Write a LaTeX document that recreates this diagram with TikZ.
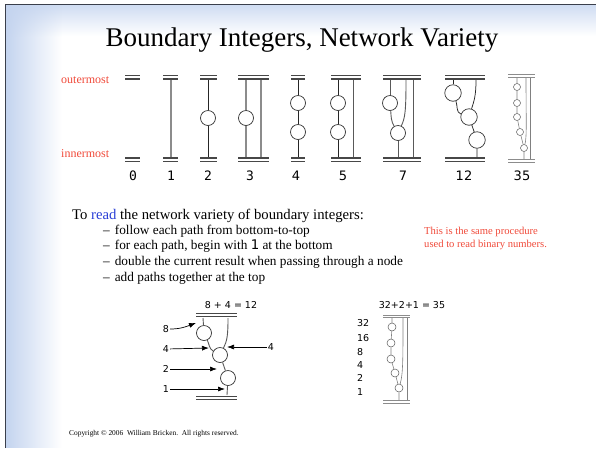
\documentclass[tikz,border=0pt]{standalone}
\usepackage{fontspec}
\setmainfont{Liberation Serif}
\newfontfamily\sansf{DejaVu Sans}
\newfontfamily\monof{DejaVu Sans Mono}
\usetikzlibrary{arrows.meta,fadings}

\definecolor{notered}{HTML}{F04A3A}
\definecolor{readblue}{HTML}{2A3FD6}
\definecolor{edgeblue}{HTML}{C4D4EF}
\definecolor{framegray}{HTML}{3A3F4B}

\tikzfading[name=fadeout right, left color=transparent!0, right color=transparent!100]

\tikzset{
  bar/.style={line width=1.8pt, draw=black!72},
  thinbar/.style={line width=1pt, draw=black!45},
  kpath/.style={line width=0.75pt, draw=black!85},
  gpath/.style={line width=1.3pt, draw=black!45},
  dpath/.style={line width=0.9pt, draw=black!65},
  lpath/.style={line width=0.6pt, draw=black!50},
  bub/.style={circle, draw=black!80, fill=white, inner sep=0pt, minimum size=15pt, line width=0.7pt},
  bigbub/.style={bub, minimum size=16.5pt},
  tinybub/.style={bub, minimum size=7pt, line width=0.5pt, draw=black!65},
  numlbl/.style={font=\monof\fontsize{13}{13}\selectfont},
  sumlbl/.style={font=\sansf\fontsize{13}{13}\selectfont},
  pathlbl/.style={font=\sansf\fontsize{9.5}{10}\selectfont, inner sep=1pt},
  redlbl/.style={font=\fontsize{12}{12}\selectfont, text=notered, anchor=west, inner sep=0pt},
  ptr/.style={->, line width=0.7pt, >={Latex[length=7pt,width=5pt]}}
}

\begin{document}
\begin{tikzpicture}[x=1pt,y=-1pt]
  \useasboundingbox (0,0) rectangle (596,448);
  % slide background
  \shade[top color=edgeblue!80, bottom color=white] (6,5) rectangle (596,36);
  \fill[edgeblue, path fading=fadeout right] (6,5) rectangle (62,448);
  \draw[framegray, line width=1.5pt] (5.5,448) -- (5.5,4.5) -- (596,4.5);

  \node (title) at (302,40) {\fontsize{27}{28}\selectfont Boundary Integers, Network Variety};

  \node[redlbl] (outer) at (61,80) {outermost};
  \node[redlbl] (inner) at (61,154) {innermost};

  % double bars of the top row
  \foreach \xa/\xb in {125/140,163/178,200/217,238/269,291/305,331/361,383/421,445/485}{
    \draw[bar] (\xa,75.5) -- (\xb,75.5) (\xa,79) -- (\xb,79);
    \draw[bar] (\xa,158) -- (\xb,158) (\xa,161.5) -- (\xb,161.5);
  }
  \draw[thinbar] (508,74.5) -- (535,74.5) (508,77) -- (535,77);
  \draw[thinbar] (508,159.5) -- (535,159.5) (508,162) -- (535,162);

  % 1
  \coordinate (t1) at (171,80); \coordinate (b1) at (171,157);
  \draw[gpath] (t1) -- (b1);
  % 2
  \coordinate (t2) at (208,80); \coordinate (b2) at (208,157);
  \node[bub] (n2) at (208,118) {};
  \draw[kpath] (t2) -- (n2) -- (b2);
  % 3
  \coordinate (t3a) at (246,80); \coordinate (b3a) at (246,157);
  \coordinate (t3b) at (261,80); \coordinate (b3b) at (261,157);
  \node[bub] (n3) at (246,118) {};
  \draw[gpath] (t3a) -- (n3) -- (b3a);
  \draw[gpath] (t3b) -- (b3b);
  % 4
  \coordinate (t4) at (298,80); \coordinate (b4) at (298,157);
  \node[bub] (n4a) at (298,103) {};
  \node[bub] (n4b) at (298,132) {};
  \draw[kpath] (t4) -- (n4a) -- (n4b) -- (b4);
  % 5
  \coordinate (t5a) at (338,80); \coordinate (b5a) at (338,157);
  \coordinate (t5b) at (353,80); \coordinate (b5b) at (353,157);
  \node[bub] (n5a) at (338,103) {};
  \node[bub] (n5b) at (338,132) {};
  \draw[kpath] (t5a) -- (n5a) -- (n5b) -- (b5a);
  \draw[dpath] (t5b) -- (b5b);
  % 7
  \coordinate (t7a) at (390,80); \coordinate (t7b) at (406,80);
  \coordinate (t7c) at (413,80); \coordinate (b7a) at (398,157);
  \coordinate (b7c) at (413,157);
  \node[bub] (n7a) at (390,103) {};
  \node[bub] (n7b) at (398,133) {};
  \draw[dpath] (t7a) -- (n7a);
  \draw[dpath] (n7a) to[out=-85,in=120] (n7b);
  \draw[dpath] (t7b) .. controls (406,112) and (405,118) .. (n7b);
  \draw[dpath] (n7b) -- (b7a);
  \draw[dpath] (t7c) -- (b7c);
  % 12
  \coordinate (t12a) at (453,80); \coordinate (t12b) at (476,80);
  \coordinate (b12) at (477,157);
  \node[bigbub] (n12a) at (453,93) {};
  \node[bigbub] (n12b) at (469,117) {};
  \node[bigbub] (n12c) at (477,140) {};
  \draw[kpath] (t12a) -- (n12a);
  \draw[kpath] (n12a) to[out=-70,in=160] (n12b);
  \draw[kpath] (t12b) .. controls (476,96) and (474,101) .. (n12b);
  \draw[kpath] (n12b) -- (n12c) -- (b12);
  % 35
  \coordinate (t35a) at (517,78); \coordinate (t35b) at (526,78);
  \coordinate (t35c) at (530.5,78); \coordinate (b35a) at (524,159);
  \coordinate (b35c) at (530.5,159);
  \foreach \nm/\px/\py in {a/517/87,b/517/103,c/517/117,d/520/132,e/524/148}
    \node[tinybub] (n35\nm) at (\px,\py) {};
  \draw[lpath] (t35a) -- (n35a) -- (n35b) -- (n35c) -- (n35d) -- (n35e) -- (b35a);
  \draw[lpath] (t35b) .. controls (526,120) and (527,136) .. (n35e);
  \draw[lpath] (t35c) -- (b35c);

  % values of the top row
  \node[numlbl] (v0) at (133,176) {0};
  \node[numlbl] (v1) at (171,176) {1};
  \node[numlbl] (v2) at (208,176) {2};
  \node[numlbl] (v3) at (250,176) {3};
  \node[sumlbl] (v4) at (296,176) {4};
  \node[sumlbl] (v5) at (343,176) {5};
  \node[sumlbl] (v7) at (403,176) {7};
  \node[sumlbl] (v12) at (464,176) {12};
  \node[sumlbl] (v35) at (522,176) {35};

  % reading rules
  \node[anchor=base west, inner sep=0pt, font=\fontsize{14.7}{15}\selectfont] (intro) at (72,219)
    {To \textcolor{readblue}{read} the network variety of boundary integers:};
  \foreach \yy/\txt in {234/{follow each path from bottom-to-top},
                        249/{for each path, begin with {\sansf 1} at the bottom},
                        265/{double the current result when passing through a node},
                        281/{add paths together at the top}}{
    \node[anchor=base west, inner sep=0pt, font=\fontsize{13.3}{14}\selectfont] at (103,\yy) {--\hspace{5pt}\txt};
  }
  \node[anchor=north west, inner sep=0pt, align=left, text=notered,
        font=\fontsize{10.6}{12.5}\selectfont] (note) at (424,227)
    {This is the same procedure\\used to read binary numbers.};

  % worked example 12
  \node[pathlbl] (sum12) at (231,305) {8 + 4 = 12};
  \draw[bar] (196,313.5) -- (237,313.5) (196,316.5) -- (237,316.5);
  \draw[bar] (196,396.5) -- (237,396.5) (196,399.5) -- (237,399.5);
  \coordinate (ta) at (203,318); \coordinate (tb) at (228,318);
  \coordinate (bb) at (227,395);
  \node[bub] (p1) at (204,333) {};
  \node[bub] (p2) at (220,355) {};
  \node[bub] (p3) at (228,378) {};
  \draw[dpath] (ta) -- (p1);
  \draw[dpath] (p1) to[out=-65,in=150] (p2);
  \draw[dpath] (tb) .. controls (228,336) and (227,341) .. (p2);
  \draw[dpath] (p2) -- (p3) -- (bb);
  \node[pathlbl] (w8) at (166,329) {8};
  \node[pathlbl] (w4l) at (166,349) {4};
  \node[pathlbl] (w4r) at (271,347) {4};
  \node[pathlbl] (w2) at (166,369) {2};
  \node[pathlbl] (w1) at (166,389) {1};
  \coordinate (h8) at (196,323);
  \coordinate (h4l) at (209,348);
  \coordinate (h4r) at (227,347);
  \coordinate (h2) at (217,369);
  \coordinate (h1) at (225,389);
  \draw[ptr] (w8) to[out=0,in=200] (h8);
  \draw[ptr] (w4l) -- (h4l);
  \draw[ptr] (w4r) -- (h4r);
  \draw[ptr] (w2) -- (h2);
  \draw[ptr] (w1) -- (h1);

  % worked example 35
  \node[pathlbl] (sum35) at (412,305) {32+2+1 = 35};
  \draw[thinbar] (383,315) -- (410,315) (383,317.5) -- (410,317.5);
  \draw[thinbar] (383,400.5) -- (410,400.5) (383,403) -- (410,403);
  \coordinate (sa) at (392,318); \coordinate (sb) at (403,318);
  \coordinate (sc) at (407.5,318); \coordinate (za) at (399,400);
  \coordinate (zc) at (407.5,400);
  \foreach \nm/\px/\py in {a/392/327,b/391/343,c/391/359,d/395/373,e/399/388}
    \node[tinybub, minimum size=8pt] (q\nm) at (\px,\py) {};
  \draw[lpath] (sa) -- (qa) -- (qb) -- (qc) -- (qd) -- (qe) -- (za);
  \draw[lpath] (sb) .. controls (403,360) and (403,374) .. (qe);
  \draw[lpath] (sc) -- (zc);
  \foreach \nm/\val/\py in {a/32/323,b/16/338,c/8/352,d/4/365,e/2/378,f/1/392}
    \node[pathlbl, anchor=west] (k\nm) at (356,\py) {\val};

  \node[anchor=west, inner sep=0pt, font=\fontsize{7.4}{8}\selectfont] (copy) at (69,434)
    {Copyright \textcopyright{} 2006\ \ William Bricken.\ \ All rights reserved.};
\end{tikzpicture}
\end{document}
